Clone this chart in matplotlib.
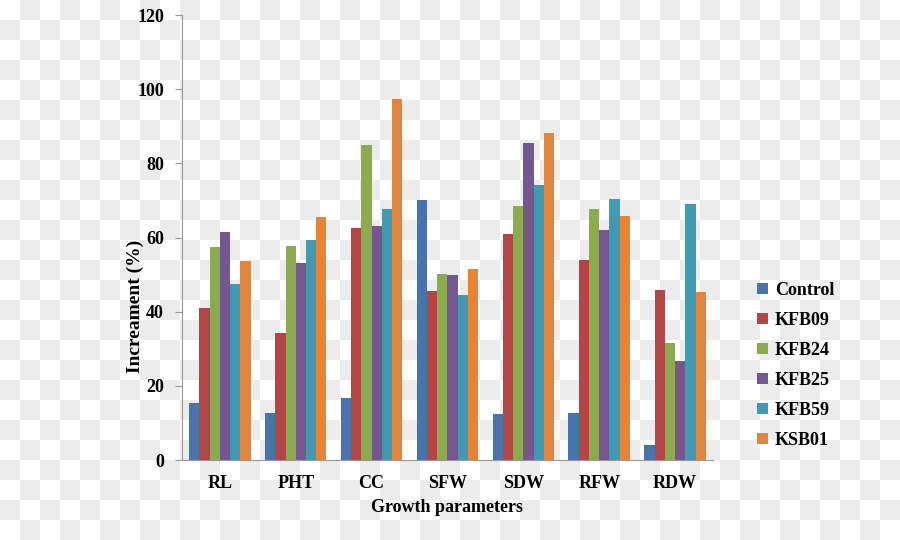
import numpy as np
import matplotlib
matplotlib.use("Agg")
import matplotlib.pyplot as plt
from matplotlib.colors import ListedColormap

categories = ["RL", "PHT", "CC", "SFW", "SDW", "RFW", "RDW"]
series_names = ["Control", "KFB09", "KFB24", "KFB25", "KFB59", "KSB01"]

control = [15.4, 12.6, 16.6, 70.1, 12.3, 12.8, 4.1]
kfb09 = [41.0, 34.3, 62.5, 45.7, 61.0, 54.0, 45.9]
kfb24 = [57.5, 57.8, 84.9, 50.2, 68.6, 67.8, 31.5]
kfb25 = [61.4, 53.1, 63.2, 49.9, 85.4, 61.9, 26.6]
kfb59 = [47.4, 59.3, 67.8, 44.4, 74.2, 70.5, 69.0]
ksb01 = [53.7, 65.6, 97.4, 51.6, 88.1, 65.8, 45.4]

colors = ["#4674ab", "#b04646", "#8bab4e", "#735890", "#419ab4", "#e0863e"]

plt.rcParams['font.family'] = ['Liberation Serif', 'DejaVu Serif']
plt.rcParams['font.weight'] = 'bold'

fig = plt.figure(figsize=(9, 5.4), dpi=100)

# checkerboard background
bg = fig.add_axes([0, 0, 1, 1], zorder=-1)
yy, xx = np.indices((27, 45))
bg.imshow((xx + yy) % 2, cmap=ListedColormap(["white", "#ececec"]),
          aspect="auto", interpolation="nearest", extent=(0, 900, 540, 0))
bg.axis("off")

ax = fig.add_axes([0.2022, 0.1481, 0.59, 0.8241])
ax.set_facecolor("none")

all_series = [control, kfb09, kfb24, kfb25, kfb59, ksb01]
x = np.arange(len(categories))
w = 0.135
for i, (vals, name) in enumerate(zip(all_series, series_names)):
    ax.bar(x + (i - 2.5) * w, vals, width=w, color=colors[i], label=name)

ax.set_xlim(-0.5, len(categories) - 0.5)
ax.set_ylim(0, 120)
ax.set_yticks(range(0, 121, 20))
ax.set_xticks(x)
ax.set_xticklabels(categories)
ax.tick_params(axis="x", length=0, pad=11, labelsize=13)
ax.tick_params(axis="y", length=5, color="#999999", labelsize=13, pad=8)
for s in ["top", "right"]:
    ax.spines[s].set_visible(False)
for s in ["left", "bottom"]:
    ax.spines[s].set_color("#999999")
ax.set_xlabel("Growth parameters", fontsize=13, fontweight="bold", labelpad=5)
ax.set_ylabel("Increament (%)", fontsize=14, fontweight="bold")
ax.yaxis.set_label_coords(-0.072, 0.345)

fig.legend(loc="upper left", bbox_to_anchor=(748 / 900, 1 - 273 / 540),
           frameon=False, fontsize=13, handlelength=0.6, handleheight=0.6,
           handletextpad=0.4, labelspacing=0.72, borderpad=0)

fig.savefig("out.png", dpi=100)
